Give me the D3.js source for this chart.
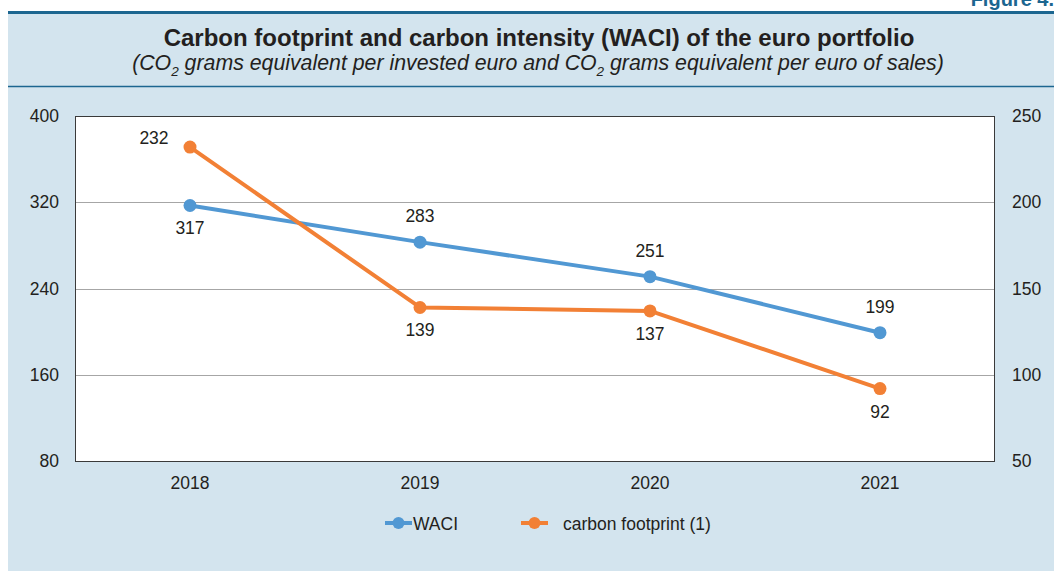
<!DOCTYPE html>
<html><head><meta charset="utf-8">
<script src="https://cdn.jsdelivr.net/npm/d3@7"></script>
<style>body{margin:0;background:#fff;}svg{display:block;font-family:"Liberation Sans",Arial,sans-serif;}</style>
</head><body><svg id="c" width="1054" height="571"></svg>
<script>
const years = ["2018","2019","2020","2021"];
const waci = [317, 283, 251, 199];
const footprint = [232, 139, 137, 92];
const leftTicks = [80, 160, 240, 320, 400];
const rightTicks = [50, 100, 150, 200, 250];
const waciLabelPos = ["below","above","above","above"];
const fpLabelPos = ["aboveLeft","below","below","below"];

const svg = d3.select("#c");
const blue = "#5198d3", orange = "#f28035", txt = "#231f20";
const FS = 17.5;

svg.append("rect").attr("x",8).attr("y",12).attr("width",1100).attr("height",600).attr("fill","#d3e4ee");
svg.append("line").attr("x1",8).attr("x2",1054).attr("y1",12.5).attr("y2",12.5).attr("stroke","#1c6690").attr("stroke-width",3);
svg.append("line").attr("x1",8).attr("x2",1054).attr("y1",86.5).attr("y2",86.5).attr("stroke","#1c6690").attr("stroke-width",1.5);
svg.append("text").attr("x",1054).attr("y",6).attr("text-anchor","end").attr("font-weight","bold").attr("font-size",20).attr("fill","#1c6690").text("Figure 4.");

svg.append("text").attr("x",539).attr("y",46).attr("text-anchor","middle").attr("font-weight","bold").attr("font-size",24).attr("fill",txt).text("Carbon footprint and carbon intensity (WACI) of the euro portfolio");
const sub = svg.append("text").attr("x",538).attr("y",70).attr("text-anchor","middle").attr("font-style","italic").attr("font-size",21.3).attr("fill",txt);
sub.append("tspan").text("(CO");
sub.append("tspan").attr("font-size",13.5).attr("dy",6).text("2");
sub.append("tspan").attr("dy",-6).text(" grams equivalent per invested euro and CO");
sub.append("tspan").attr("font-size",13.5).attr("dy",6).text("2");
sub.append("tspan").attr("dy",-6).text(" grams equivalent per euro of sales)");

const L = 75, R = 995, T = 116, B = 461;
const x = d3.scaleBand().domain(years).range([L,R]);
const yL = d3.scaleLinear().domain([80,400]).range([B,T]);
const yR = d3.scaleLinear().domain([50,250]).range([B,T]);
const cx = d => x(d)+x.bandwidth()/2;

svg.append("rect").attr("x",L).attr("y",T).attr("width",R-L).attr("height",B-T).attr("fill","#fff");
svg.append("g").selectAll("line").data(leftTicks.slice(1,-1)).join("line")
  .attr("x1",L).attr("x2",R).attr("y1",d=>Math.round(yL(d))+0.5).attr("y2",d=>Math.round(yL(d))+0.5)
  .attr("stroke","#a6a6a6").attr("stroke-width",1);
svg.append("rect").attr("x",L+0.5).attr("y",T+0.5).attr("width",R-L-1).attr("height",B-T).attr("fill","none").attr("stroke","#3a3a3a").attr("stroke-width",1);

const ax1 = svg.append("g").attr("transform",`translate(${L},0)`).call(d3.axisLeft(yL).tickValues(leftTicks).tickSize(0).tickPadding(16));
const ax2 = svg.append("g").attr("transform",`translate(${R},0)`).call(d3.axisRight(yR).tickValues(rightTicks).tickSize(0).tickPadding(17));
const ax3 = svg.append("g").attr("transform",`translate(0,${B})`).call(d3.axisBottom(x).tickSize(0).tickPadding(16));
[ax1,ax2,ax3].forEach(a=>{a.select(".domain").remove();a.selectAll("text").attr("font-size",FS).attr("fill",txt).attr("font-family","Liberation Sans, Arial, sans-serif");});

function series(vals, scale, color, pos){
  const line = d3.line().x((d,i)=>cx(years[i])).y(d=>scale(d));
  svg.append("path").attr("d",line(vals)).attr("fill","none").attr("stroke",color).attr("stroke-width",4).attr("stroke-linejoin","round");
  svg.append("g").selectAll("circle").data(vals).join("circle").attr("cx",(d,i)=>cx(years[i])).attr("cy",d=>scale(d)).attr("r",6.5).attr("fill",color);
  svg.append("g").selectAll("text").data(vals).join("text")
    .attr("x",(d,i)=>cx(years[i]) + (pos[i]==="aboveLeft"?-36:0))
    .attr("y",(d,i)=>scale(d) + (pos[i]==="below"?29:(pos[i]==="aboveLeft"?-3:-20)))
    .attr("text-anchor","middle").attr("font-size",FS).attr("fill",txt).text(d=>d);
}
series(waci, yL, blue, waciLabelPos);
series(footprint, yR, orange, fpLabelPos);

// legend
const lg = svg.append("g");
lg.append("line").attr("x1",385).attr("x2",412).attr("y1",523).attr("y2",523).attr("stroke",blue).attr("stroke-width",4);
lg.append("circle").attr("cx",398.5).attr("cy",523).attr("r",6).attr("fill",blue);
lg.append("text").attr("x",413).attr("y",529.5).attr("font-size",FS).attr("fill",txt).text("WACI");
lg.append("line").attr("x1",521).attr("x2",548).attr("y1",523).attr("y2",523).attr("stroke",orange).attr("stroke-width",4);
lg.append("circle").attr("cx",534.5).attr("cy",523).attr("r",6).attr("fill",orange);
lg.append("text").attr("x",563).attr("y",529.5).attr("font-size",FS).attr("fill",txt).text("carbon footprint (1)");
</script></body></html>
